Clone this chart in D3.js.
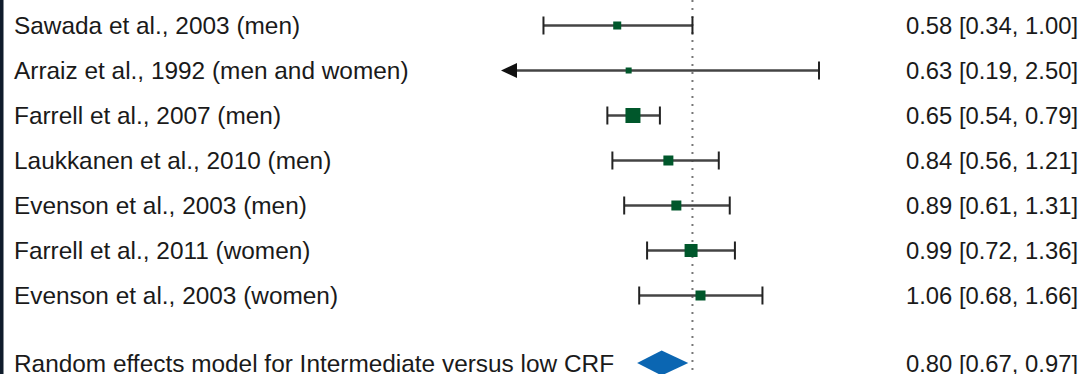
<!DOCTYPE html>
<html>
<head>
<meta charset="utf-8">
<script src="https://cdn.jsdelivr.net/npm/d3@7"></script>
<style>
  html, body { margin: 0; padding: 0; background: #fff; }
  svg { display: block; }
</style>
</head>
<body>
<script>
const studies = [
  "Sawada et al., 2003 (men)",
  "Arraiz et al., 1992 (men and women)",
  "Farrell et al., 2007 (men)",
  "Laukkanen et al., 2010 (men)",
  "Evenson et al., 2003 (men)",
  "Farrell et al., 2011 (women)",
  "Evenson et al., 2003 (women)"
];
const estimates = [0.58, 0.63, 0.65, 0.84, 0.89, 0.99, 1.06];
const lowers    = [0.34, 0.19, 0.54, 0.56, 0.61, 0.72, 0.68];
const uppers    = [1.00, 2.50, 0.79, 1.21, 1.31, 1.36, 1.66];
const weights   = [8.6, 3.0, 28.0, 14.1, 14.1, 22.4, 14.1];
const pooledLabel = "Random effects model for Intermediate versus low CRF";
const pooled = { est: 0.80, lo: 0.67, hi: 0.97 };
const xLimits = [0.25, 2.5];

const W = 1085, H = 374;
const svg = d3.select("body").append("svg").attr("width", W).attr("height", H);

const x = d3.scaleLog().domain(xLimits).range([501, 819]);
const y = d3.scaleLinear().domain([0, 1]).range([25.5, 70.5]);
const size = d3.scaleLinear().domain(d3.extent(weights)).range([6, 15]);

const fmt = d3.format(".2f");
const font = "'Liberation Sans', Arial, Helvetica, sans-serif";
const fs = 23.8;
const fsLeft = 24.4;

// left dark strip
svg.append("rect").attr("x", 0).attr("y", 0).attr("width", 3.5).attr("height", H).attr("fill", "#0f1c2b");

// reference line at 1
svg.append("line")
  .attr("x1", x(1)).attr("x2", x(1)).attr("y1", 0).attr("y2", H)
  .attr("stroke", "#777").attr("stroke-width", 2).attr("stroke-dasharray", "2,6");

const rows = svg.append("g").selectAll("g").data(studies).join("g");

rows.each(function(d, i) {
  const g = d3.select(this);
  const yy = y(i);
  const lo = Math.max(lowers[i], xLimits[0]);
  const clipped = lowers[i] < xLimits[0];
  const xl = clipped ? x(xLimits[0]) + 14 : x(lo);
  g.append("line").attr("x1", xl).attr("x2", x(uppers[i])).attr("y1", yy).attr("y2", yy)
    .attr("stroke", "#444").attr("stroke-width", 2.5);
  if (!clipped) {
    g.append("line").attr("x1", x(lo)).attr("x2", x(lo)).attr("y1", yy - 9).attr("y2", yy + 9)
      .attr("stroke", "#222").attr("stroke-width", 2);
  } else {
    const tx = x(xLimits[0]);
    g.append("path").attr("d", `M${tx},${yy} L${tx + 16},${yy - 7.5} L${tx + 16},${yy + 7.5} Z`).attr("fill", "#111");
  }
  g.append("line").attr("x1", x(uppers[i])).attr("x2", x(uppers[i])).attr("y1", yy - 9).attr("y2", yy + 9)
    .attr("stroke", "#222").attr("stroke-width", 2);
  const s = size(weights[i]);
  g.append("rect").attr("x", x(estimates[i]) - s / 2).attr("y", yy - s / 2)
    .attr("width", s).attr("height", s).attr("fill", "#00572b");
  g.append("text").attr("x", 14).attr("y", yy).attr("dy", "0.36em")
    .attr("font-family", font).attr("font-size", fsLeft).attr("fill", "#1a1a1a").text(d);
  g.append("text").attr("x", 1078).attr("y", yy).attr("dy", "0.36em").attr("text-anchor", "end")
    .attr("font-family", font).attr("font-size", fs).attr("fill", "#1a1a1a")
    .text(`${fmt(estimates[i])} [${fmt(lowers[i])}, ${fmt(uppers[i])}]`);
});

const py = y(studies.length + 0.5);
const dh = 12.5;
svg.append("path")
  .attr("d", `M${x(pooled.lo)},${py} L${x(pooled.est)},${py - dh} L${x(pooled.hi)},${py} L${x(pooled.est)},${py + dh} Z`)
  .attr("fill", "#0b66b2");
svg.append("text").attr("x", 14).attr("y", py).attr("dy", "0.36em")
  .attr("font-family", font).attr("font-size", fsLeft).attr("fill", "#1a1a1a").text(pooledLabel);
svg.append("text").attr("x", 1078).attr("y", py).attr("dy", "0.36em").attr("text-anchor", "end")
  .attr("font-family", font).attr("font-size", fs).attr("fill", "#1a1a1a")
  .text(`${fmt(pooled.est)} [${fmt(pooled.lo)}, ${fmt(pooled.hi)}]`);
</script>
</body>
</html>
